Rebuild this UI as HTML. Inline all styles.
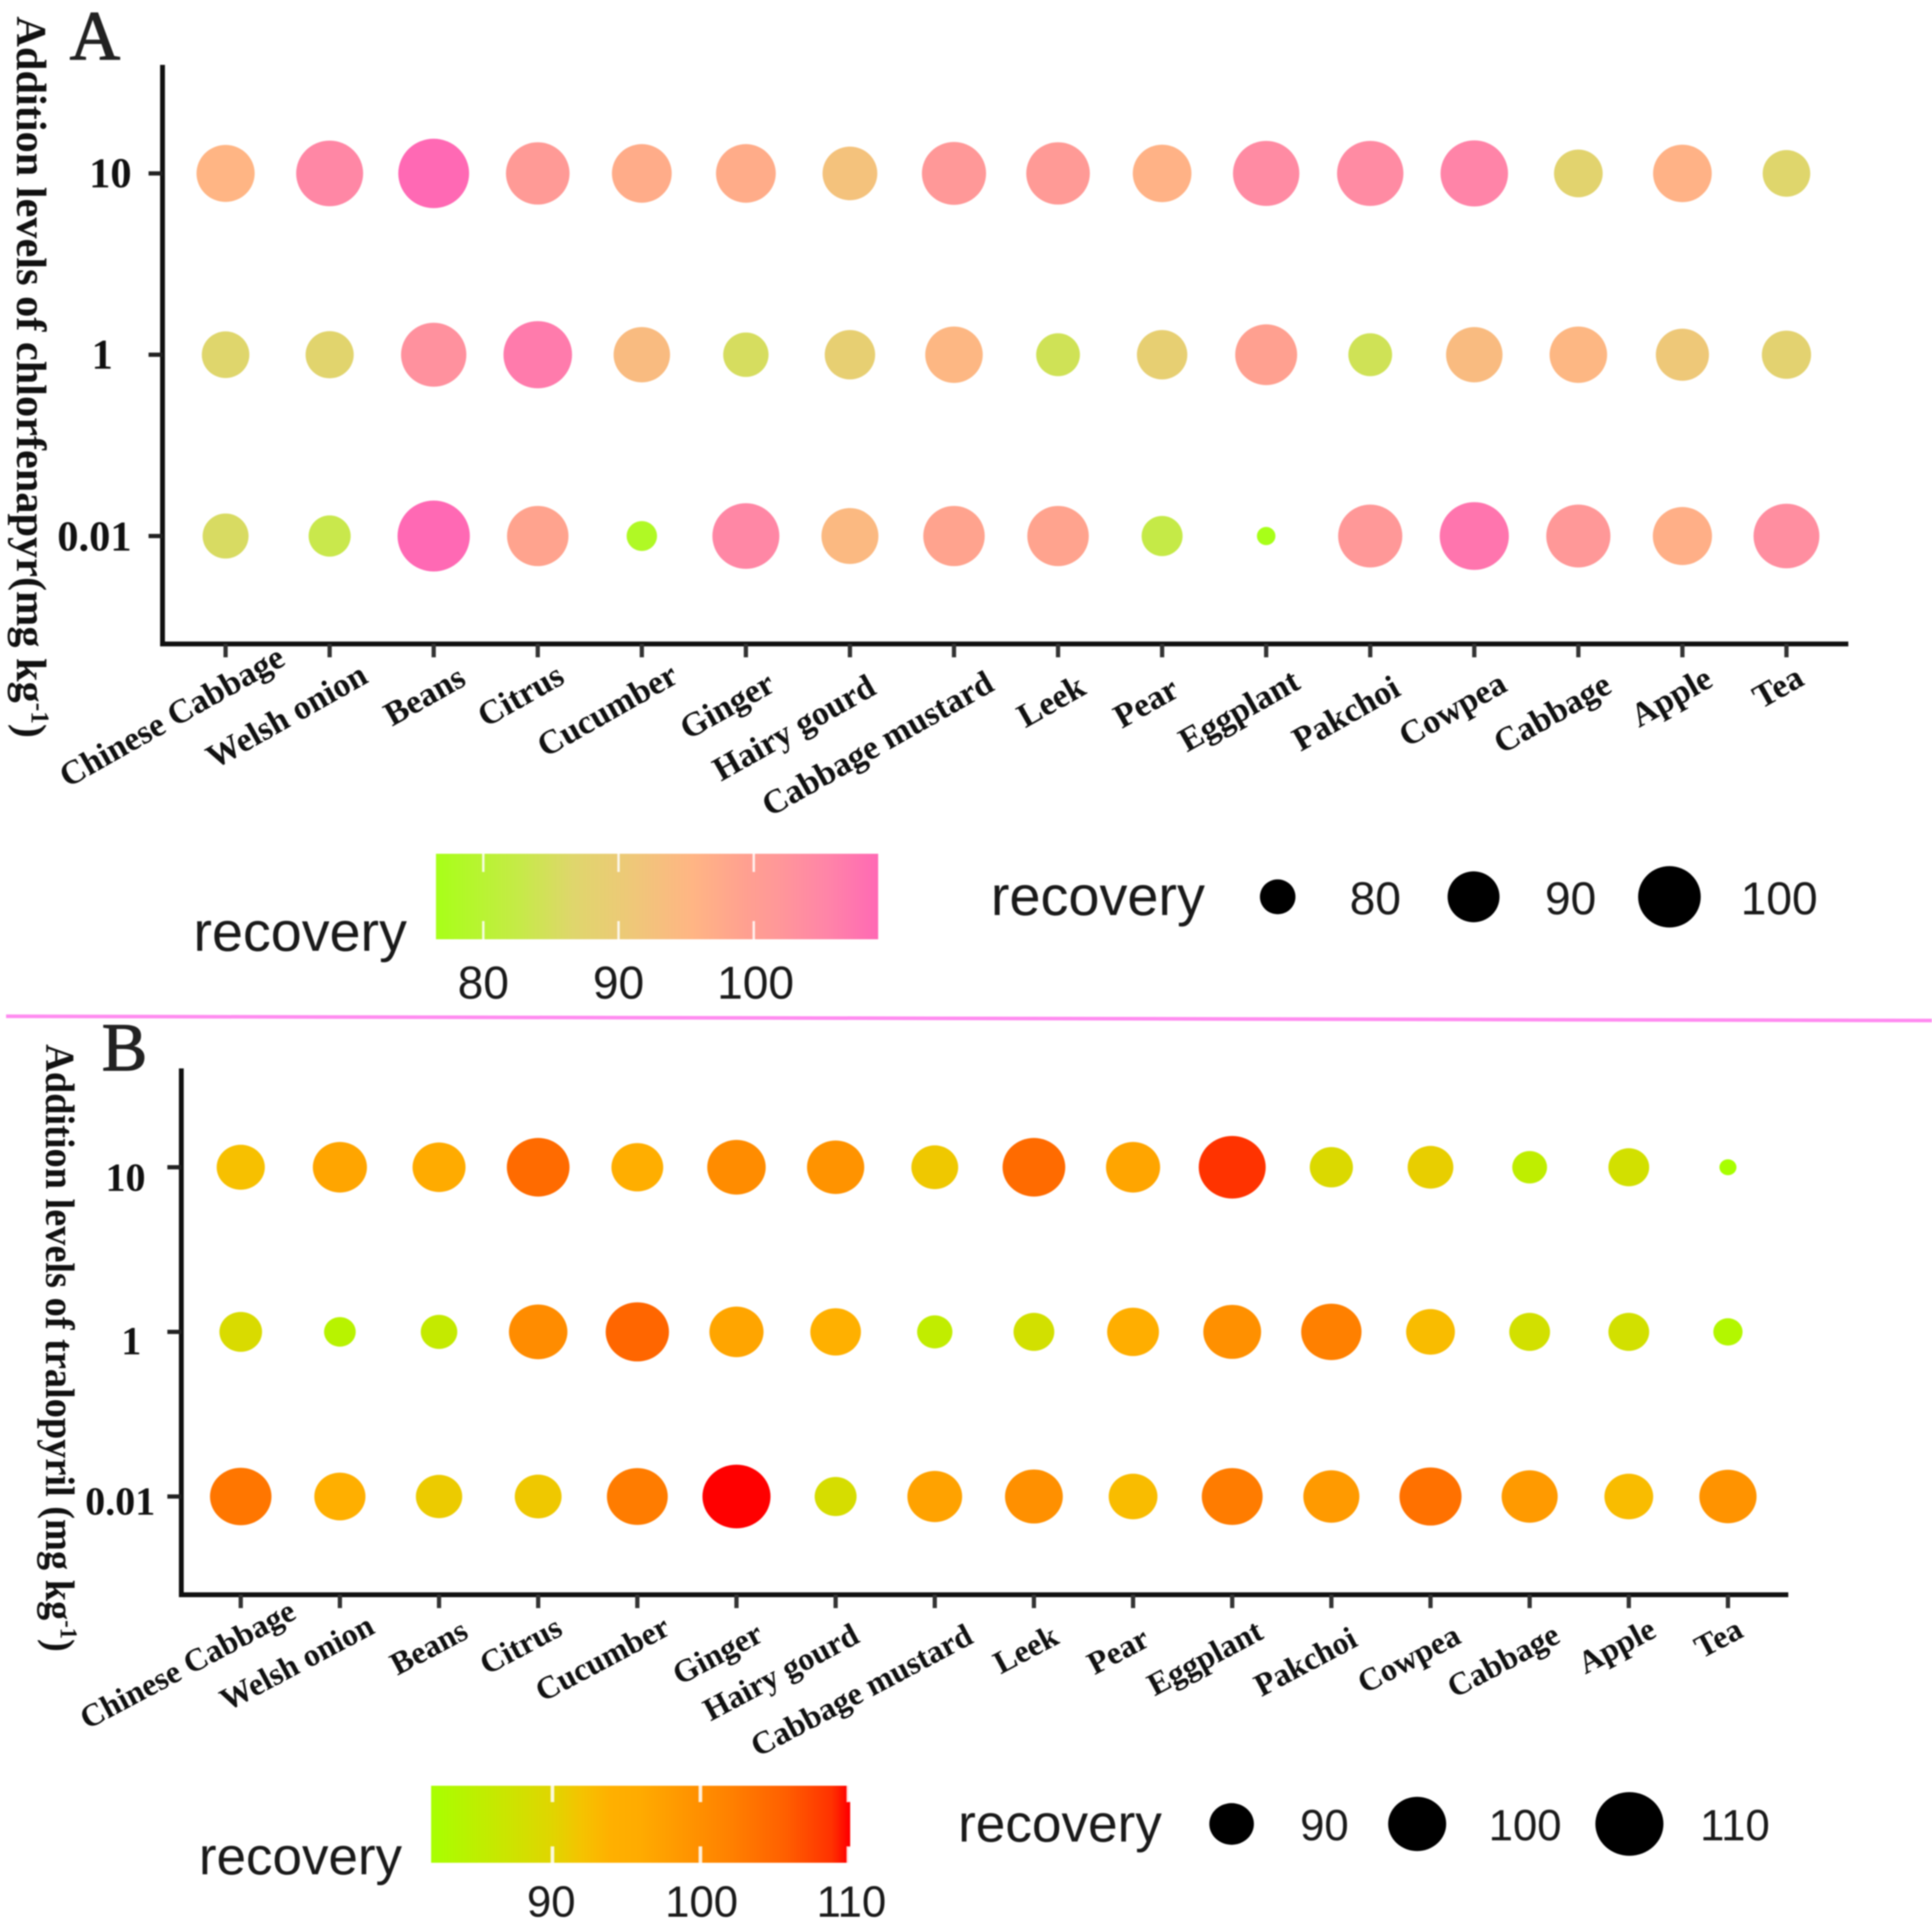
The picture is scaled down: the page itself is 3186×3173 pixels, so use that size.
<!DOCTYPE html>
<html lang="en">
<head>
<meta charset="utf-8">
<title>Recovery bubble charts for chlorfenapyr and tralopyril</title>
<style>
  html, body { margin: 0; padding: 0; background: #fff; }
  #figure { display: block; width: 3186px; height: 3173px; filter: blur(1.1px); }
  .serif { font-family: "Liberation Serif", serif; font-weight: bold; fill: #111; }
  .sans { font-family: "Liberation Sans", sans-serif; fill: #1a1a1a; }
</style>
</head>
<body>
<svg id="figure" xmlns="http://www.w3.org/2000/svg" width="3186" height="3173" viewBox="0 0 3186 3173">
  <rect x="0" y="0" width="3186" height="3173" fill="#ffffff"/>
  <defs id="gradients"></defs>

  <line x1="10" y1="1676" x2="3186" y2="1683" stroke="#ff8cf0" stroke-width="6"/>

  <text x="115" y="98" font-family="Liberation Serif, serif" font-size="115" fill="#222" stroke="#222" stroke-width="2">A</text>
  <text x="168" y="1765" font-family="Liberation Serif, serif" font-size="112" fill="#222" stroke="#222" stroke-width="2">B</text>

  <text class="serif" transform="translate(28,27) rotate(90)" font-size="70" textLength="1190" lengthAdjust="spacingAndGlyphs">Addition levels of chlorfenapyr(mg kg<tspan dy="-24" font-size="42">-1</tspan><tspan dy="24">)</tspan></text>
  <text class="serif" transform="translate(76,1722) rotate(90)" font-size="68" textLength="1002" lengthAdjust="spacingAndGlyphs">Addition levels of tralopyril (mg kg<tspan dy="-24" font-size="40">-1</tspan><tspan dy="24">)</tspan></text>

  <g id="panel-a"></g>
  <g id="panel-b"></g>
</svg>

<script>
// ---- data ----
const categories = ["Chinese Cabbage","Welsh onion","Beans","Citrus","Cucumber","Ginger","Hairy gourd","Cabbage mustard","Leek","Pear","Eggplant","Pakchoi","Cowpea","Cabbage","Apple","Tea"];
const levels = ["10","1","0.01"];

const chlorfenapyrLevel10  = [95.5,104.9,109.6,101.1,97.1,97.1,92.4,101.7,101.1,96.0,104.2,104.2,105.5,87.5,96.0,86.7];
const chlorfenapyrLevel1   = [86.7,87.1,103.0,106.8,93.9,85.2,88.8,94.9,84.2,88.8,99.3,84.2,93.9,94.9,91.0,87.9];
const chlorfenapyrLevel001 = [85.6,83.2,111.5,98.8,78.2,104.9,94.4,98.8,98.8,82.6,76.5,101.7,107.5,101.7,96.5,103.6];

const tralopyrilLevel10  = [92.3,96.7,95.8,104.4,94.9,100.4,99.3,91.4,104.4,96.7,108.8,89.2,90.7,85.2,87.9,81.8];
const tralopyrilLevel1   = [88.9,84.1,85.9,100.4,105.0,96.7,94.0,85.4,87.9,94.9,99.8,102.1,92.7,87.9,87.9,83.4];
const tralopyrilLevel001 = [103.2,94.4,91.1,91.4,102.6,110.0,88.5,97.2,99.8,92.7,102.6,98.3,103.8,98.3,92.7,99.3];

const legendTicksA = [80,90,100];
const legendTicksB = [90,100,110];
const legendTitle = "recovery";

// ---- drawing ----
const SVG_NS = "http://www.w3.org/2000/svg";

function make(parent, tag, attrs, text) {
  const el = document.createElementNS(SVG_NS, tag);
  for (const k in attrs) el.setAttribute(k, attrs[k]);
  if (text !== undefined) el.textContent = text;
  parent.appendChild(el);
  return el;
}

function hexToRgb(h) {
  return [parseInt(h.slice(1,3),16), parseInt(h.slice(3,5),16), parseInt(h.slice(5,7),16)];
}

function colorScale(stops, domainMin, domainMax) {
  return function (v) {
    let t = (v - domainMin) / (domainMax - domainMin);
    t = Math.max(0, Math.min(1, t));
    for (let i = 1; i < stops.length; i++) {
      if (t <= stops[i][0]) {
        const a = stops[i-1], b = stops[i];
        const u = (t - a[0]) / (b[0] - a[0]);
        const ca = hexToRgb(a[1]), cb = hexToRgb(b[1]);
        const mix = ca.map((c, j) => Math.round(c + (cb[j] - c) * u));
        return "rgb(" + mix.join(",") + ")";
      }
    }
    return stops[stops.length-1][1];
  };
}

function drawPanel(cfg) {
  const g = document.getElementById(cfg.id);
  const xScale = i => cfg.x0 + i * cfg.xStep;
  const yScale = i => cfg.y0 + i * cfg.yStep;
  const sizeT = v => Math.sqrt(Math.max(0, v - cfg.domainMin) / (cfg.domainMax - cfg.domainMin));
  const heightScale = v => cfg.dMin + cfg.dRange * sizeT(v);
  const color = colorScale(cfg.stops, cfg.domainMin, cfg.domainMax);
  const barX = v => cfg.barRef + (v - cfg.barRefValue) * cfg.barUnit;

  // axes
  const yAxis = make(g, "line", {x1: cfg.axisX, y1: cfg.axisTop, x2: cfg.axisX, y2: cfg.axisY + 4, stroke: "#111", "stroke-width": 8});
  
  
  const xAxis = make(g, "line", {x1: cfg.axisX - 4, y1: cfg.axisY, x2: cfg.axisRight, y2: cfg.axisY, stroke: "#111", "stroke-width": 8});
  
  

  // y ticks + labels
  levels.forEach((lab, r) => {
    const tick = make(g, "line", {x1: cfg.axisX - 23, y1: yScale(r), x2: cfg.axisX, y2: yScale(r), stroke: "#222", "stroke-width": 7});
    
    
    const t = make(g, "text", {class: "serif", x: cfg.yLabelRight[r], y: yScale(r) + cfg.yLabelDy[r], "text-anchor": "end", "font-size": cfg.yFont}, lab);
    
    
  });

  // x ticks + labels
  categories.forEach((name, i) => {
    const tick = make(g, "line", {x1: xScale(i), y1: cfg.axisY, x2: xScale(i), y2: cfg.axisY + 22, stroke: "#333", "stroke-width": 7});
    
    
    const t = make(g, "text", {class: "serif", "text-anchor": "end", "font-size": cfg.xFont,
      transform: "translate(" + (xScale(i) + cfg.labelDx[i]) + "," + cfg.labelY[i] + ") rotate(" + cfg.labelAngle + ")"}, name);
    
    
  });

  // bubbles
  cfg.series.forEach((values, r) => {
    values.forEach((v, i) => {
      const h = heightScale(v);
      const dot = make(g, "ellipse", {cx: xScale(i), cy: yScale(r), rx: h * cfg.aspect / 2, ry: h / 2, fill: color(v)});
      
      
    });
  });

  // colour legend
  const defs = document.getElementById("gradients");
  const grad = make(defs, "linearGradient", {id: cfg.id + "-grad", x1: 0, y1: 0, x2: 1, y2: 0});
  cfg.stops.forEach(s => make(grad, "stop", {offset: s[0], "stop-color": s[1]}));
  const bx0 = barX(cfg.domainMin), bx1 = barX(cfg.domainMax);
  const bar = make(g, "rect", {x: bx0, y: cfg.barTop, width: bx1 - bx0, height: cfg.barH, fill: "url(#" + cfg.id + "-grad)"});
  
  
  if (cfg.barBump) {
    const bump = make(g, "rect", {x: bx1 - 1, y: cfg.barTop + 25, width: 4, height: cfg.barH - 50, fill: "#ff0000"});
    
    
  }
  cfg.legendTicks.forEach(v => {
    const px = barX(v);
    [[cfg.barTop, cfg.barTop + cfg.barTickLen], [cfg.barTop + cfg.barH - cfg.barTickLen, cfg.barTop + cfg.barH]].forEach(seg => {
      const tk = make(g, "line", {x1: px, y1: seg[0], x2: px, y2: seg[1], stroke: "#fff", "stroke-width": cfg.barTickW, "stroke-opacity": 0.85});
      
      
    });
  });
  cfg.legendTicks.forEach((v, i) => {
    const t = make(g, "text", {class: "sans", x: barX(v) + cfg.barLabelDx[i], y: cfg.barLabelY, "text-anchor": "middle", "font-size": cfg.legendFont}, String(v));
    
    
  });
  const ct = make(g, "text", {class: "sans", x: cfg.colorTitleX, y: cfg.colorTitleY, "font-size": cfg.titleFont, textLength: cfg.titleLen, lengthAdjust: "spacingAndGlyphs"}, legendTitle);
  
  

  // size legend
  const st = make(g, "text", {class: "sans", x: cfg.sizeTitleX, y: cfg.sizeTitleY, "font-size": cfg.titleFont, textLength: cfg.titleLen2, lengthAdjust: "spacingAndGlyphs"}, legendTitle);
  
  
  cfg.legendTicks.forEach((v, i) => {
    const h = heightScale(v);
    const d = make(g, "ellipse", {cx: cfg.sizeDotX[i], cy: cfg.sizeDotY, rx: h * cfg.aspect / 2, ry: h / 2, fill: "#000"});
    
    
    const t = make(g, "text", {class: "sans", x: cfg.sizeLabelX[i], y: cfg.sizeLabelY, "text-anchor": "middle", "font-size": cfg.legendFont}, String(v));
    
    
  });
}

drawPanel({
  id: "panel-a",
  series: [chlorfenapyrLevel10, chlorfenapyrLevel1, chlorfenapyrLevel001],
  legendTicks: legendTicksA,
  domainMin: 76.5, domainMax: 109.2,
  stops: [[0,"#a8ff18"],[0.19,"#c6ea48"],[0.31,"#dfd66c"],[0.44,"#eec878"],[0.58,"#ffb584"],[0.70,"#ffa090"],[0.77,"#ff9898"],[0.887,"#ff84a8"],[1,"#ff69b4"]],
  x0: 372, xStep: 171.6, y0: 286, yStep: 299,
  axisX: 268, axisTop: 107, axisY: 1062, axisRight: 3048,
  dMin: 30, dRange: 84, aspect: 1.02,
  yFont: 70, yLabelRight: [217,186,217], yLabelDy: [23,23,24],
  xFont: 56, labelAngle: -29.5,
  labelDx: [101,66,56,47,63,51,46,69,49,31,59,53,57,58,53,32],
  labelY: [1095,1124,1128,1125,1124,1138,1143,1137,1143,1147,1134,1145,1138,1140,1130,1128],
  barRef: 797, barRefValue: 80, barUnit: 22.3, barTop: 1408, barH: 141, barTickLen: 30, barTickW: 4,
  barLabelDx: [0,0,3], barLabelY: 1647, legendFont: 76, titleFont: 92,
  colorTitleX: 319, colorTitleY: 1568, titleLen: 352,
  sizeTitleX: 1634, sizeTitleY: 1509, titleLen2: 353,
  sizeDotX: [2107,2430,2753], sizeDotY: 1479,
  sizeLabelX: [2268,2590,2934], sizeLabelY: 1508
});

drawPanel({
  id: "panel-b",
  series: [tralopyrilLevel10, tralopyrilLevel1, tralopyrilLevel001],
  legendTicks: legendTicksB,
  domainMin: 81.8, domainMax: 110,
  stops: [[0,"#a8ff00"],[0.29,"#e0d500"],[0.36,"#f5c300"],[0.43,"#ffb000"],[0.5,"#ffab00"],[0.72,"#ff8000"],[0.85,"#ff5f00"],[0.96,"#ff3200"],[1,"#ff0000"]],
  x0: 397, xStep: 163.5, y0: 1925, yStep: 271.5,
  axisX: 299, axisTop: 1762, axisY: 2630, axisRight: 2949,
  dMin: 26.3, dRange: 78.6, aspect: 1.07,
  yFont: 66, yLabelRight: [240,233,256], yLabelDy: [39,37,30],
  xFont: 53, labelAngle: -28,
  labelDx: [94,60,51,43,57,47,42,66,44,30,54,46,53,53,48,28],
  labelY: [2668,2692,2700,2695,2694,2705,2707,2708,2709,2713,2701,2713,2708,2707,2698,2698],
  barRef: 911, barRefValue: 90, barUnit: 24.4, barTop: 2945, barH: 127, barTickLen: 27, barTickW: 6,
  barBump: true,
  barLabelDx: [-2,2,5], barLabelY: 3161, legendFont: 72, titleFont: 87,
  colorTitleX: 328, colorTitleY: 3091, titleLen: 335,
  sizeTitleX: 1580, sizeTitleY: 3037, titleLen2: 336,
  sizeDotX: [2031,2337,2687], sizeDotY: 3008,
  sizeLabelX: [2184,2515,2861], sizeLabelY: 3035
});
</script>
</body>
</html>
